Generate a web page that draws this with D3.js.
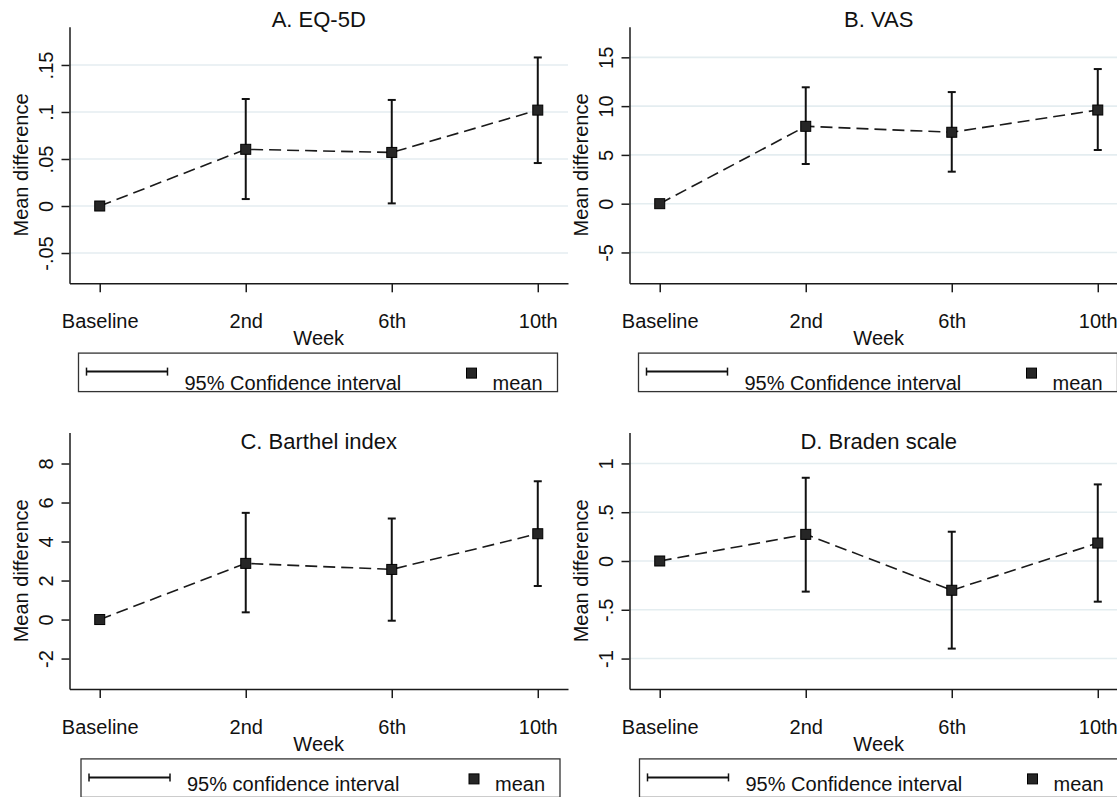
<!DOCTYPE html>
<html><head><meta charset="utf-8">
<script src="https://cdn.jsdelivr.net/npm/d3@7"></script>
<style>
body{margin:0;background:#fff}
svg{display:block}
text{font-family:"Liberation Sans",Arial,Helvetica,sans-serif;fill:#111}
</style>
</head><body><svg id="c" width="1117" height="797"></svg>
<script>
// ---- data ----
const weeks = ["Baseline", "2nd", "6th", "10th"];

const eqMean = [0, 0.0603, 0.0570, 0.1020];
const eqLow  = [null, 0.0074, 0.0028, 0.0457];
const eqHigh = [null, 0.1138, 0.1128, 0.1580];
const eqTicks = [-0.05, 0, 0.05, 0.1, 0.15];
const eqTickLabels = ["-.05", "0", ".05", ".1", ".15"];
const eqRange = [-0.0822, 0.1907];

const vasMean = [0, 7.93, 7.32, 9.60];
const vasLow  = [null, 4.07, 3.28, 5.50];
const vasHigh = [null, 11.93, 11.44, 13.80];
const vasTicks = [-5, 0, 5, 10, 15];
const vasTickLabels = ["-5", "0", "5", "10", "15"];
const vasRange = [-8.16, 18.14];

const barMean = [0, 2.88, 2.57, 4.40];
const barLow  = [null, 0.37, -0.06, 1.72];
const barHigh = [null, 5.47, 5.18, 7.09];
const barTicks = [-2, 0, 2, 4, 6, 8];
const barTickLabels = ["-2", "0", "2", "4", "6", "8"];
const barRange = [-3.566, 9.59];

const braMean = [0, 0.273, -0.300, 0.184];
const braLow  = [null, -0.314, -0.898, -0.417];
const braHigh = [null, 0.853, 0.300, 0.785];
const braTicks = [-1, -0.5, 0, 0.5, 1];
const braTickLabels = ["-1", "-.5", "0", ".5", "1"];
const braRange = [-1.313, 1.317];

const titles = ["A. EQ-5D", "B. VAS", "C. Barthel index", "D. Braden scale"];
const ciLabels = ["95% Confidence interval", "95% Confidence interval", "95% confidence interval", "95% Confidence interval"];
const meanLabel = "mean";
const xTitle = "Week";
const yTitle = "Mean difference";

// ---- layout ----
const svg = d3.select("#c");
const panels = [
  {title: titles[0], mean: eqMean, low: eqLow, high: eqHigh, ticks: eqTicks, labels: eqTickLabels, range: eqRange, grid: true, ci: ciLabels[0], ox: 0, oy: 0, titleDy: 0.6, legDx: 9, legTextDy: 36.5},
  {title: titles[1], mean: vasMean, low: vasLow, high: vasHigh, ticks: vasTicks, labels: vasTickLabels, range: vasRange, grid: true, ci: ciLabels[1], ox: 560, oy: 0, titleDy: 0.6, legDx: 9, legTextDy: 36.5},
  {title: titles[2], mean: barMean, low: barLow, high: barHigh, ticks: barTicks, labels: barTickLabels, range: barRange, grid: false, ci: ciLabels[2], ox: 0, oy: 405.8, titleDy: 16, legDx: 11.5, legTextDy: 32.5},
  {title: titles[3], mean: braMean, low: braLow, high: braHigh, ticks: braTicks, labels: braTickLabels, range: braRange, grid: true, ci: ciLabels[3], ox: 560, oy: 405.8, titleDy: 16, legDx: 10, legTextDy: 32.5}
];

panels.forEach(p => {
  const left = p.ox + 69.5, right = p.ox + 568, top = p.oy + 26.7, bottom = p.oy + 283.3;
  const x = d3.scalePoint().domain(weeks).range([left, right]).padding(0.207);
  const y = d3.scaleLinear().domain(p.range).range([bottom, top]);
  const g = svg.append("g");

  // gridlines
  if (p.grid) {
    g.selectAll("line.grid").data(p.ticks).join("line")
      .attr("x1", left).attr("x2", right)
      .attr("y1", d => y(d)).attr("y2", d => y(d))
      .attr("stroke", "#e4edf0").attr("stroke-width", 1.6);
  }

  // x axis
  const xa = g.append("g").attr("transform", `translate(0,${bottom})`)
    .call(d3.axisBottom(x).tickSize(9).tickSizeOuter(0));
  xa.select(".domain").attr("stroke", "#1a1a1a").attr("stroke-width", 1.5);
  xa.selectAll(".tick line").attr("stroke", "#1a1a1a").attr("stroke-width", 1.5);
  xa.selectAll(".tick text").attr("y", 45).attr("dy", 0)
    .attr("font-size", 20).attr("fill", "#111")
    .style("font-family", '"Liberation Sans",Arial,sans-serif');

  // y axis
  const ya = g.append("g").attr("transform", `translate(${left},0)`)
    .call(d3.axisLeft(y).tickValues(p.ticks).tickFormat((d, i) => p.labels[i]).tickSize(8).tickSizeOuter(0));
  ya.select(".domain").attr("stroke", "#1a1a1a").attr("stroke-width", 1.5);
  ya.selectAll(".tick line").attr("stroke", "#1a1a1a").attr("stroke-width", 1.5);
  ya.selectAll(".tick text")
    .attr("x", null).attr("dy", 0)
    .attr("transform", "translate(-17,0) rotate(-90)")
    .attr("text-anchor", "middle")
    .attr("font-size", 20).attr("fill", "#111")
    .style("font-family", '"Liberation Sans",Arial,sans-serif');

  // titles
  g.append("text").attr("x", (left + right) / 2).attr("y", top + p.titleDy)
    .attr("text-anchor", "middle").attr("font-size", 22).text(p.title);
  g.append("text").attr("x", (left + right) / 2).attr("y", bottom + 61.7)
    .attr("text-anchor", "middle").attr("font-size", 20).text(xTitle);
  g.append("text")
    .attr("transform", `translate(${left - 42},${(top + bottom) / 2 + 10}) rotate(-90)`)
    .attr("text-anchor", "middle").attr("font-size", 20).text(yTitle);

  const pts = weeks.map((w, i) => ({w, m: p.mean[i], lo: p.low[i], hi: p.high[i]}));

  // dashed connecting line
  g.append("path").datum(pts)
    .attr("d", d3.line().x(d => x(d.w)).y(d => y(d.m)))
    .attr("fill", "none").attr("stroke", "#1a1a1a").attr("stroke-width", 1.6)
    .attr("stroke-dasharray", "12,6");

  // error bars
  const eb = pts.filter(d => d.lo !== null);
  g.selectAll("line.eb").data(eb).join("line")
    .attr("x1", d => x(d.w)).attr("x2", d => x(d.w))
    .attr("y1", d => y(d.lo)).attr("y2", d => y(d.hi))
    .attr("stroke", "#111").attr("stroke-width", 2);
  ["lo", "hi"].forEach(k => {
    g.selectAll("line.cap" + k).data(eb).join("line")
      .attr("x1", d => x(d.w) - 4).attr("x2", d => x(d.w) + 4)
      .attr("y1", d => y(d[k])).attr("y2", d => y(d[k]))
      .attr("stroke", "#111").attr("stroke-width", 2);
  });

  // markers
  g.selectAll("rect.m").data(pts).join("rect")
    .attr("x", d => x(d.w) - 5).attr("y", d => y(d.m) - 5)
    .attr("width", 10).attr("height", 10)
    .attr("fill", "#262626").attr("stroke", "#000").attr("stroke-width", 1);

  // legend
  const lx = left + p.legDx, ly = bottom + 69.8;
  const lg = g.append("g");
  lg.append("rect").attr("x", lx).attr("y", ly).attr("width", 479).attr("height", 38.5)
    .attr("fill", "none").attr("stroke", "#333").attr("stroke-width", 1.3);
  lg.append("line").attr("x1", lx + 8).attr("x2", lx + 89).attr("y1", ly + 18.5).attr("y2", ly + 18.5)
    .attr("stroke", "#111").attr("stroke-width", 2);
  [lx + 8, lx + 89].forEach(cx => {
    lg.append("line").attr("x1", cx).attr("x2", cx).attr("y1", ly + 14.5).attr("y2", ly + 22.5)
      .attr("stroke", "#111").attr("stroke-width", 1.5);
  });
  lg.append("text").attr("x", lx + 106).attr("y", ly + p.legTextDy).attr("font-size", 20).text(p.ci);
  lg.append("rect").attr("x", lx + 388).attr("y", ly + 15).attr("width", 10).attr("height", 10)
    .attr("fill", "#262626").attr("stroke", "#000").attr("stroke-width", 1);
  lg.append("text").attr("x", lx + 414).attr("y", ly + p.legTextDy).attr("font-size", 20).text(meanLabel);
});
</script>
</body></html>
